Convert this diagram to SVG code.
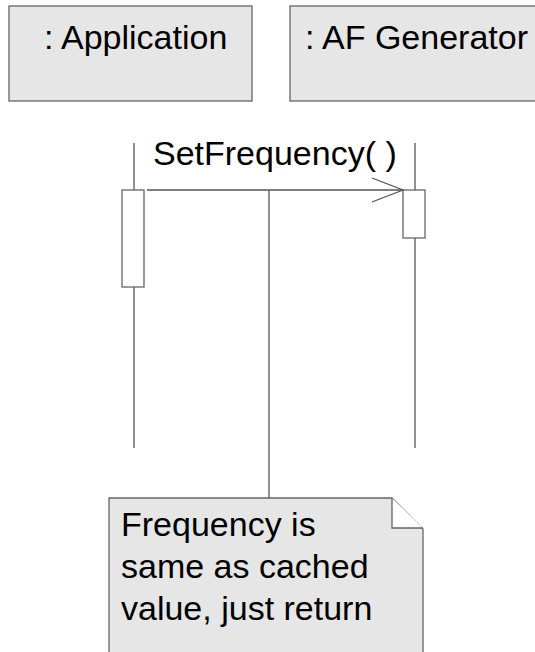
<svg xmlns="http://www.w3.org/2000/svg" width="535" height="652" viewBox="0 0 535 652">
  <style>
    .obj { fill: #e6e6e6; stroke: #666666; stroke-width: 1.3; }
    .lbl { font-family: "Liberation Sans", Arial, sans-serif; font-size: 34px; fill: #000000; }
    .life { stroke: #555555; stroke-width: 1.3; fill: none; }
    .act { fill: #ffffff; stroke: #666666; stroke-width: 1.3; }
    .msg { stroke: #555555; stroke-width: 1.3; fill: none; }
  </style>
  <rect width="535" height="652" fill="#ffffff"/>

  <g id="application">
    <rect class="obj" x="9" y="6" width="243" height="95"/>
    <text class="lbl" x="44" y="49">: Application</text>
    <line class="life" x1="134" y1="143" x2="134" y2="448"/>
    <rect class="act" x="122" y="190" width="22" height="97"/>
  </g>

  <g id="af-generator">
    <rect class="obj" x="290" y="6" width="260" height="95"/>
    <text class="lbl" x="305" y="49">: AF Generator</text>
    <line class="life" x1="415" y1="143" x2="415" y2="448"/>
    <rect class="act" x="403" y="190" width="22" height="48"/>
  </g>

  <g id="connectors">
    <line class="msg" x1="147" y1="190" x2="403" y2="190"/>
    <polyline class="msg" points="372,178 403,190 372,202" stroke-width="1.6"/>
    <text class="lbl" x="153" y="165">SetFrequency( )</text>
    <line class="msg" x1="269" y1="190" x2="269" y2="498"/>
  </g>

  <g id="note">
    <polygon class="obj" points="109,498 392,498 423,529 423,660 109,660"/>
    <polyline points="392,498 392,528 423,528" fill="#ffffff" stroke="#666666" stroke-width="1.3"/>
    <text class="lbl" x="121" y="536">Frequency is</text>
    <text class="lbl" x="121" y="578">same as cached</text>
    <text class="lbl" x="121" y="620">value, just return</text>
  </g>
</svg>
